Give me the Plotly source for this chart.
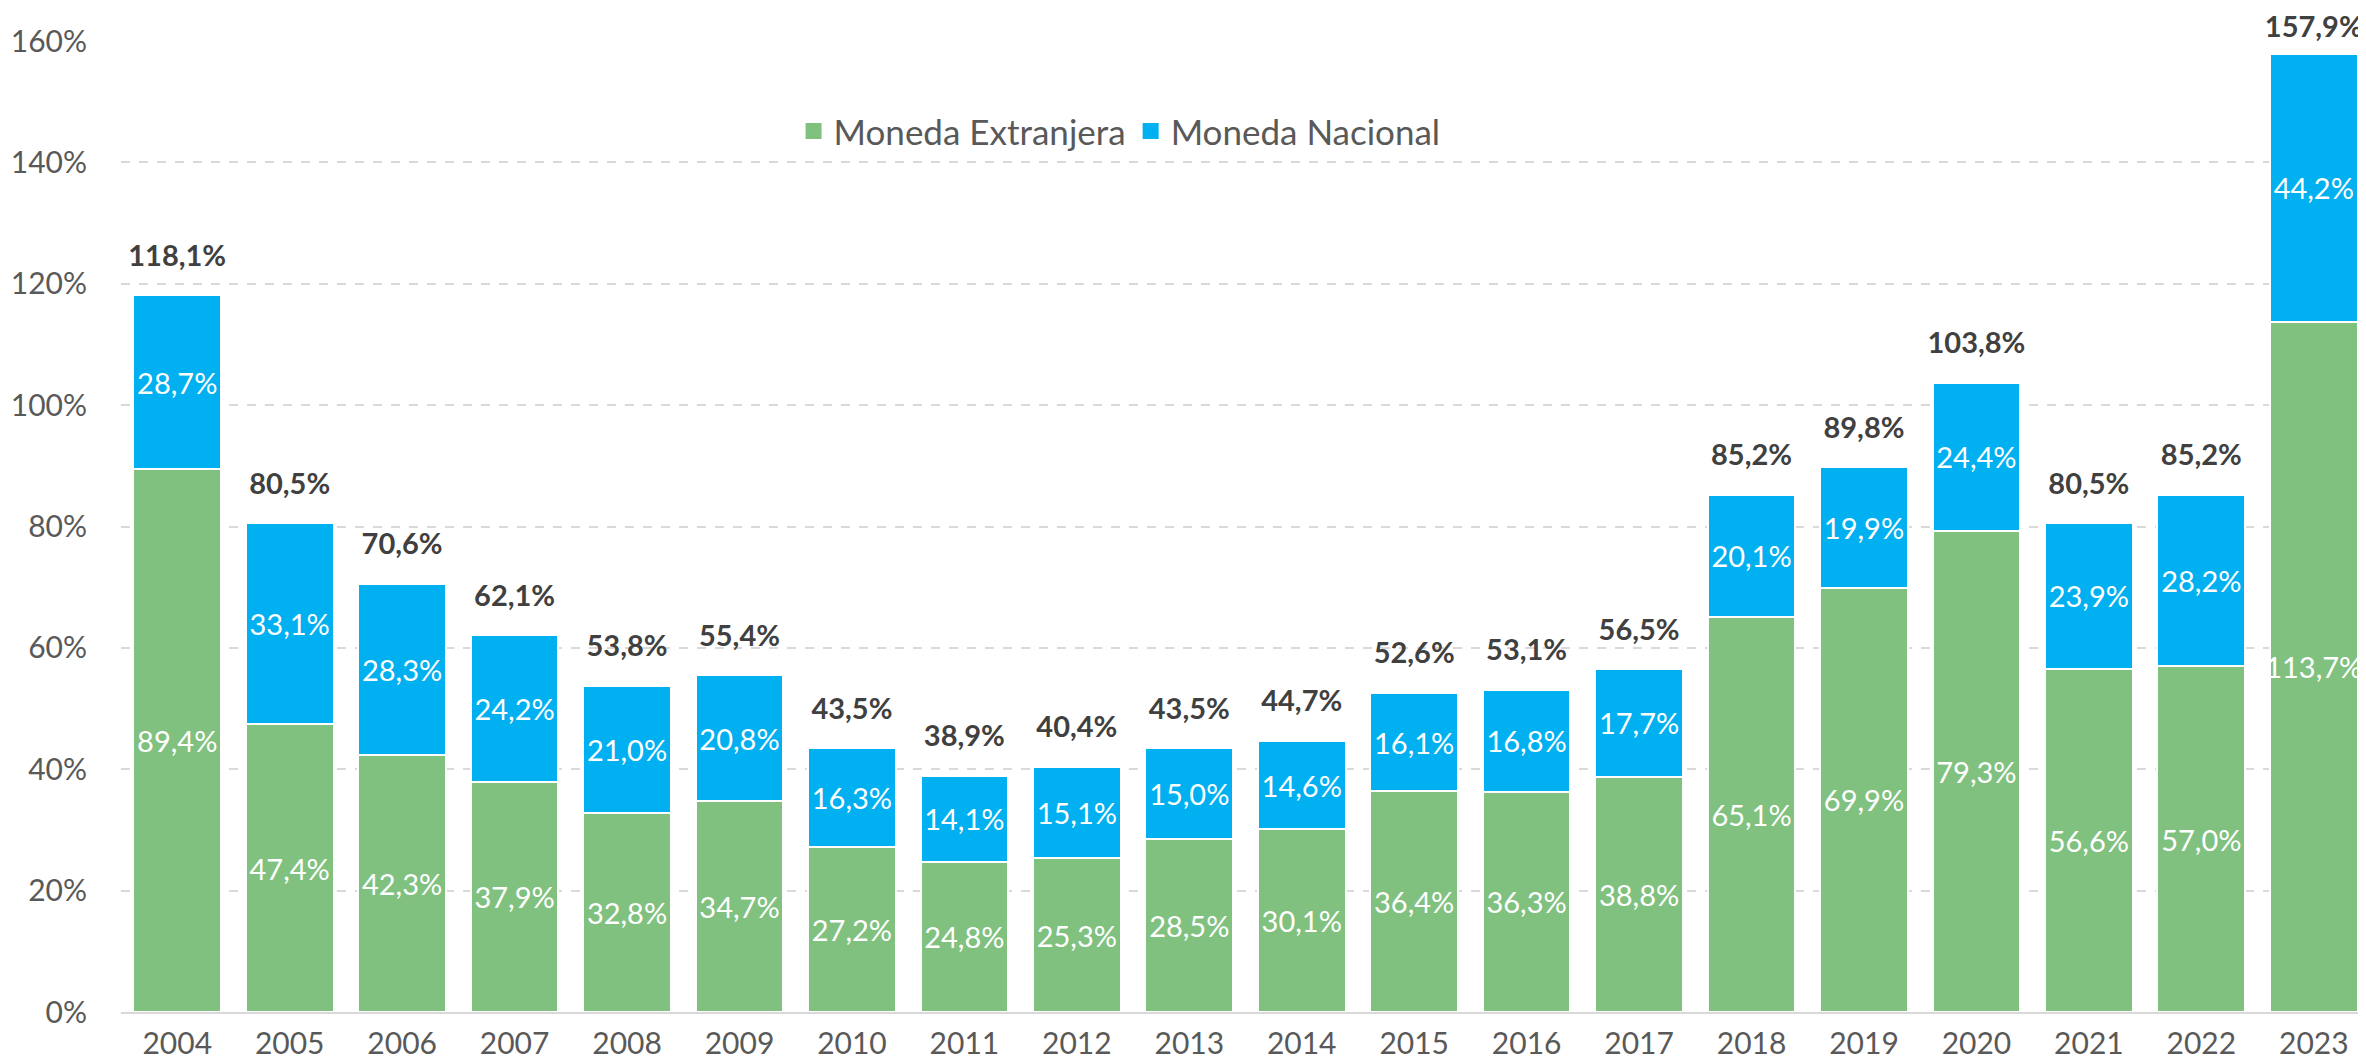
import plotly.graph_objects as go

years = ["2004", "2005", "2006", "2007", "2008", "2009", "2010", "2011", "2012", "2013",
         "2014", "2015", "2016", "2017", "2018", "2019", "2020", "2021", "2022", "2023"]
moneda_extranjera = [89.4, 47.4, 42.3, 37.9, 32.8, 34.7, 27.2, 24.8, 25.3, 28.5,
                     30.1, 36.4, 36.3, 38.8, 65.1, 69.9, 79.3, 56.6, 57.0, 113.7]
moneda_nacional = [28.7, 33.1, 28.3, 24.2, 21.0, 20.8, 16.3, 14.1, 15.1, 15.0,
                   14.6, 16.1, 16.8, 17.7, 20.1, 19.9, 24.4, 23.9, 28.2, 44.2]
totales = [118.1, 80.5, 70.6, 62.1, 53.8, 55.4, 43.5, 38.9, 40.4, 43.5,
           44.7, 52.6, 53.1, 56.5, 85.2, 89.8, 103.8, 80.5, 85.2, 157.9]
series_names = ["Moneda Extranjera", "Moneda Nacional"]

GREEN = "#81C17F"
BLUE = "#00B0F0"
FONT = "Lato"
Y_MAX = 160

# total labels sit above each bar; those close to the top are tucked in so they stay on the page
label_offsets = [14 if t > Y_MAX - 8 else 34 for t in totales]

fig = go.Figure()
for name, vals, color in [(series_names[0], moneda_extranjera, GREEN),
                          (series_names[1], moneda_nacional, BLUE)]:
    fig.add_trace(go.Bar(
        x=years, y=vals, name=name, showlegend=False, legendgroup=name,
        marker=dict(color=color, line=dict(color="white", width=2)),
        texttemplate="%{y:.1f}%", textposition="inside", insidetextanchor="middle",
        textfont=dict(family=FONT, size=29, color="white"), textangle=0,
        constraintext="none",
    ))

fig.add_trace(go.Scatter(
    x=years, y=totales, mode="markers+text", showlegend=False,
    marker=dict(size=label_offsets, color="rgba(0,0,0,0)", opacity=0, line=dict(width=0)),
    texttemplate="%{y:.1f}%", textposition="top center",
    textfont=dict(family=FONT, size=29, color="#404040", weight="bold"),
    cliponaxis=False, hoverinfo="skip",
))

# legend entries with square swatches
for name, color in [(series_names[0], GREEN), (series_names[1], BLUE)]:
    fig.add_trace(go.Scatter(
        x=[years[0]], y=[None], mode="markers", name=name, legendgroup=name,
        marker=dict(symbol="square", size=18, color=color), hoverinfo="skip",
    ))

fig.update_layout(
    width=2366, height=1059,
    barmode="stack", bargap=0.22,
    separators=",.",
    paper_bgcolor="white", plot_bgcolor="white",
    margin=dict(l=113, r=4, t=33, b=55),
    font=dict(family=FONT, color="#595959"),
    uniformtext=dict(mode="show", minsize=29),
    legend=dict(orientation="h", x=0.444, y=0.907, xanchor="center", yanchor="middle",
                font=dict(family=FONT, size=35, color="#595959"),
                bgcolor="rgba(0,0,0,0)", itemwidth=30, traceorder="normal"),
    xaxis=dict(range=[-0.5, len(years) - 0.5], showgrid=False, showline=True,
               linecolor="#D9D9D9", linewidth=2,
               ticks="", tickfont=dict(family=FONT, size=30, color="#595959"),
               ticklabelstandoff=4, automargin=False),
    yaxis=dict(range=[0, Y_MAX], dtick=20, ticksuffix="%", showgrid=True,
               gridcolor="#D9D9D9", griddash="dash", gridwidth=1.5,
               zeroline=False, showline=False, ticks="",
               tickfont=dict(family=FONT, size=30, color="#595959"),
               ticklabelstandoff=33, automargin=False),
)

fig.write_html("out.html")
